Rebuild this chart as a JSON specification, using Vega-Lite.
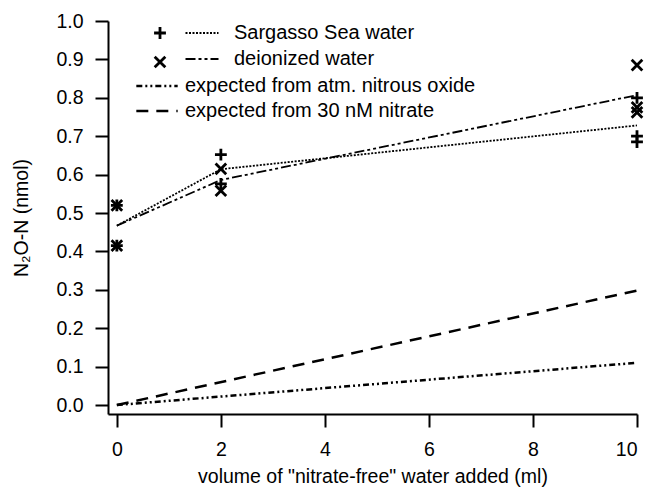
{
  "$schema": "https://vega.github.io/schema/vega-lite/v6.json",
  "autosize": "none",
  "width": 529,
  "height": 393,
  "padding": {"left": 108, "top": 21, "right": 10, "bottom": 75},
  "background": "white",
  "config": {
    "view": {"stroke": null},
    "font": "Liberation Sans",
    "axis": {
      "grid": false,
      "domainColor": "black",
      "domainWidth": 2,
      "tickColor": "black",
      "tickWidth": 2,
      "tickSize": 13,
      "labelColor": "black",
      "labelFont": "Liberation Sans",
      "labelFontSize": 19.5,
      "titleFont": "Liberation Sans",
      "titleFontSize": 19.5,
      "titleFontWeight": "normal",
      "titleColor": "black"
    },
    "legend": {
      "labelFont": "Liberation Sans",
      "labelFontSize": 20,
      "labelColor": "black",
      "labelLimit": 500,
      "padding": 0,
      "symbolOpacity": 1
    }
  },
  "datasets": {
    "pts": [
      {"volume": 0, "n2o": 0.52, "sample": "Sargasso"},
      {"volume": 0, "n2o": 0.415, "sample": "Sargasso"},
      {"volume": 2, "n2o": 0.652, "sample": "Sargasso"},
      {"volume": 2, "n2o": 0.576, "sample": "Sargasso"},
      {"volume": 10, "n2o": 0.80, "sample": "Sargasso"},
      {"volume": 10, "n2o": 0.70, "sample": "Sargasso"},
      {"volume": 10, "n2o": 0.685, "sample": "Sargasso"},
      {"volume": 0, "n2o": 0.52, "sample": "deionized"},
      {"volume": 0, "n2o": 0.415, "sample": "deionized"},
      {"volume": 2, "n2o": 0.615, "sample": "deionized"},
      {"volume": 2, "n2o": 0.558, "sample": "deionized"},
      {"volume": 10, "n2o": 0.885, "sample": "deionized"},
      {"volume": 10, "n2o": 0.775, "sample": "deionized"},
      {"volume": 10, "n2o": 0.762, "sample": "deionized"}
    ],
    "obs": [
      {"volume": 0, "n2o": 0.467, "fit": "Sargasso Sea water"},
      {"volume": 2, "n2o": 0.614, "fit": "Sargasso Sea water"},
      {"volume": 10, "n2o": 0.728, "fit": "Sargasso Sea water"},
      {"volume": 0, "n2o": 0.467, "fit": "deionized water"},
      {"volume": 2, "n2o": 0.586, "fit": "deionized water"},
      {"volume": 10, "n2o": 0.807, "fit": "deionized water"}
    ],
    "exp": [
      {"volume": 0, "n2o": 0.0, "model": "expected from atm. nitrous oxide"},
      {"volume": 10, "n2o": 0.11, "model": "expected from atm. nitrous oxide"},
      {"volume": 0, "n2o": 0.0, "model": "expected from 30 nM nitrate"},
      {"volume": 10, "n2o": 0.298, "model": "expected from 30 nM nitrate"}
    ]
  },
  "encoding": {
    "x": {
      "field": "volume", "type": "quantitative",
      "scale": {"domain": [-0.17, 10], "nice": false, "zero": false},
      "axis": {"values": [0, 2, 4, 6, 8, 10], "title": "volume of \"nitrate-free\" water added (ml)", "labelPadding": 13, "titlePadding": 9}
    },
    "y": {
      "field": "n2o", "type": "quantitative",
      "scale": {"domain": [-0.0234, 1.0], "nice": false, "zero": false},
      "axis": {"values": [0, 0.1, 0.2, 0.3, 0.4, 0.5, 0.6, 0.7, 0.8, 0.9, 1.0], "format": ".1f", "title": "N₂O-N (nmol)", "labelPadding": 12, "titlePadding": 24}
    }
  },
  "layer": [
    {
      "data": {"name": "exp"},
      "mark": {"type": "line", "color": "black", "strokeWidth": 2.5},
      "encoding": {
        "strokeDash": {
          "field": "model", "type": "nominal",
          "scale": {"domain": ["expected from atm. nitrous oxide", "expected from 30 nM nitrate"], "range": [[6, 3, 2, 3, 2, 3], [12, 8]]},
          "legend": {"orient": "none", "legendX": 39, "legendY": 55, "title": null, "symbolType": "M-3,0H3", "symbolSize": 190, "symbolStrokeWidth": 2.5, "symbolStrokeColor": "black", "labelOffset": 18, "rowPadding": 5}
        }
      }
    },
    {
      "data": {"name": "obs"},
      "mark": {"type": "line", "color": "black", "strokeWidth": 1.8},
      "encoding": {
        "strokeDash": {
          "field": "fit", "type": "nominal",
          "scale": {"domain": ["Sargasso Sea water", "deionized water"], "range": [[2, 1.5], [10, 3, 3, 3, 3, 3]]},
          "legend": {"orient": "none", "legendX": 84, "legendY": 2, "title": null, "symbolType": "M-3,0H3", "symbolSize": 121, "symbolStrokeWidth": 1.8, "symbolStrokeColor": "black", "labelOffset": 22, "rowPadding": 6}
        }
      }
    },
    {
      "data": {"name": "pts"},
      "mark": {"type": "point", "filled": false, "color": "black", "opacity": 1, "strokeWidth": 2.8, "size": 140},
      "encoding": {
        "shape": {
          "field": "sample", "type": "nominal",
          "scale": {"domain": ["Sargasso", "deionized"], "range": ["M-1,0L1,0M0,-1L0,1", "M-0.9,-0.9L0.9,0.9M-0.9,0.9L0.9,-0.9"]},
          "legend": {"orient": "none", "legendX": 42, "legendY": 2, "title": null, "labelExpr": "''", "symbolSize": 140, "symbolStrokeWidth": 2.8, "symbolStrokeColor": "black", "symbolFillColor": "transparent", "rowPadding": 6}
        }
      }
    }
  ],
  "resolve": {"scale": {"strokeDash": "independent"}, "legend": {"strokeDash": "independent"}}
}
